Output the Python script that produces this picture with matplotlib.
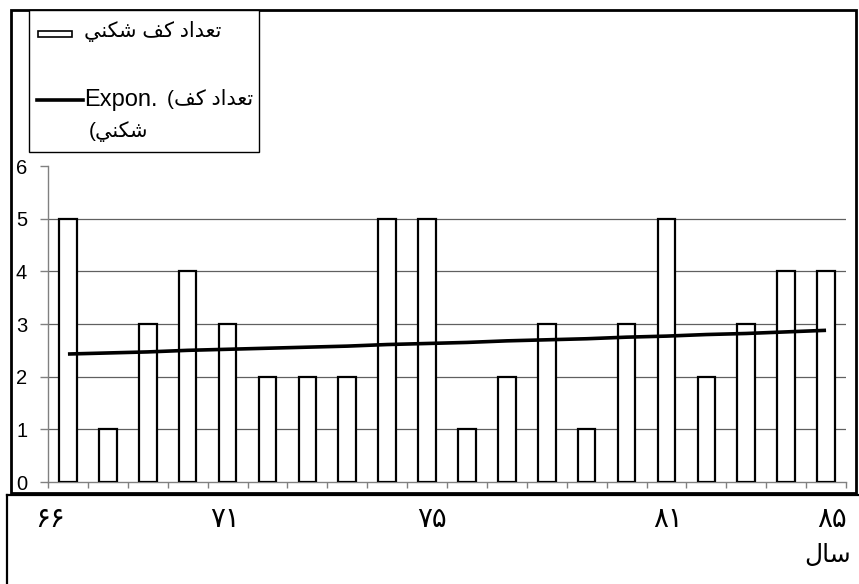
import numpy as np
import matplotlib as mpl
import matplotlib.pyplot as plt
from matplotlib.patches import Rectangle
from matplotlib.lines import Line2D

mpl.rcParams["font.family"] = ["Liberation Sans", "DejaVu Sans"]

# data (years 66..85, one bar per year)
years = list(range(66, 86))
counts = [5, 1, 3, 4, 3, 2, 2, 2, 5, 5, 1, 2, 3, 1, 3, 5, 2, 3, 4, 4]
trend = [2.43, 2.45, 2.47, 2.50, 2.52, 2.54, 2.56, 2.58, 2.61, 2.63,
         2.65, 2.68, 2.70, 2.72, 2.75, 2.77, 2.80, 2.82, 2.85, 2.88]
y_ticks = [0, 1, 2, 3, 4, 5, 6]

# Arabic text written with presentation forms, in visual (left to right) order
w_tedad = "\uFEA9\uFE8D\uFEAA\uFECC\uFE97"
w_kaf = "\uFED2\uFEDB"
w_shekani = "\uFEF2\uFEE8\uFEDC\uFEB7"
w_sal = "\uFEDD\uFE8E\uFEB3"
legend_bar = w_shekani + " " + w_kaf + " " + w_tedad
legend_expon = "Expon."
legend_line1 = "(" + w_kaf + " " + w_tedad
legend_line2 = "(" + w_shekani
# year labels in the box under the chart (Persian digits)
year_labels = ["\u06F6\u06F6", "\u06F7\u06F1", "\u06F7\u06F5", "\u06F8\u06F1", "\u06F8\u06F5"]
year_label_x = [50, 225, 432, 668, 832]

W, H = 859, 584
fig = plt.figure(figsize=(W / 100, H / 100), dpi=100)

def fx(x):
    return x / W

def fy(y):
    return 1 - y / H

ax = fig.add_axes([fx(48), fy(482), fx(846) - fx(48), fy(166) - fy(482)])
ax.set_facecolor("none")

x = np.arange(len(counts))
ax.bar(x, counts, width=0.44, color="white", edgecolor="black", linewidth=1.6, zorder=3)
ax.plot(x, trend, color="black", linewidth=2.6, zorder=4, solid_capstyle="butt")

ax.set_xlim(-0.5, len(counts) - 0.5)
ax.set_ylim(0, 6)
ax.set_yticks(y_ticks)
ax.set_yticklabels([str(v) for v in y_ticks], fontsize=14.5)
ax.set_xticks(np.arange(len(counts) + 1) - 0.5)
ax.set_xticklabels([])
ax.tick_params(axis="y", direction="out", length=6, width=1, color="#808080", pad=9)
ax.tick_params(axis="x", direction="out", length=4.5, width=1, color="#808080")

ax.yaxis.grid(True, color="#606060", linewidth=0.9, zorder=1)
gl = ax.get_ygridlines()
gl[0].set_visible(False)
gl[-1].set_visible(False)

for s in ["top", "right"]:
    ax.spines[s].set_visible(False)
for s in ["left", "bottom"]:
    ax.spines[s].set_color("#808080")
    ax.spines[s].set_linewidth(1)

# outer chart frame
fig.patches.append(Rectangle((fx(11), fy(493)), fx(856) - fx(11), fy(10) - fy(493),
                             transform=fig.transFigure, fill=False, edgecolor="black",
                             linewidth=2))

# legend box
fig.patches.append(Rectangle((fx(29), fy(152)), fx(259) - fx(29), fy(10) - fy(152),
                             transform=fig.transFigure, facecolor="white", edgecolor="black",
                             linewidth=1))
fig.patches.append(Rectangle((fx(38), fy(37)), fx(72) - fx(38), fy(31) - fy(37),
                             transform=fig.transFigure, facecolor="white", edgecolor="black",
                             linewidth=1.2))
fig.text(fx(221), fy(31), legend_bar, fontsize=15, ha="right", va="center")
fig.lines.append(Line2D([fx(37), fx(83)], [fy(100), fy(100)], transform=fig.transFigure,
                        color="black", linewidth=2.6))
fig.text(fx(84), fy(100), legend_expon, fontsize=17, ha="left", va="center")
fig.text(fx(253), fy(99), legend_line1, fontsize=15, ha="right", va="center")
fig.text(fx(89), fy(132), legend_line2, fontsize=15, ha="left", va="center")

# box under the chart with the years
fig.lines.append(Line2D([fx(7), fx(859)], [fy(495), fy(495)], transform=fig.transFigure,
                        color="black", linewidth=1.6))
fig.lines.append(Line2D([fx(7), fx(7)], [fy(495), fy(584)], transform=fig.transFigure,
                        color="black", linewidth=1.6))
for lab, px in zip(year_labels, year_label_x):
    fig.text(fx(px), fy(520), lab, fontsize=20, ha="center", va="center")
fig.text(fx(828), fy(555), w_sal, fontsize=18, ha="center", va="center")

fig.savefig("out.png", dpi=100)
